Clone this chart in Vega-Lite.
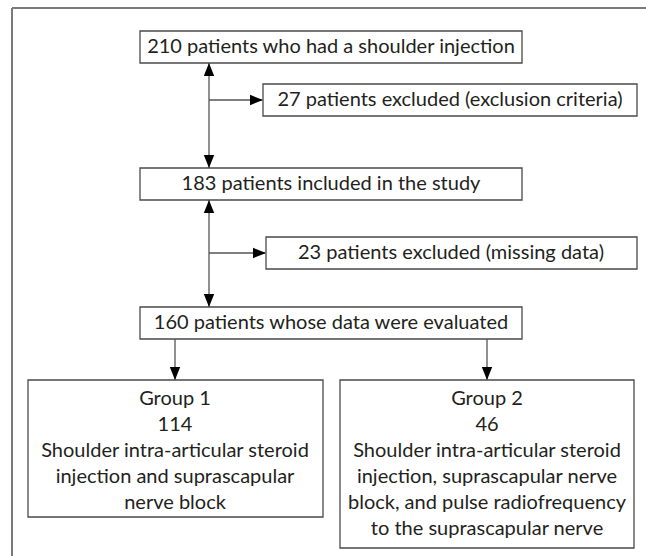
{
  "$schema": "https://vega.github.io/schema/vega-lite/v6.json",
  "width": 646,
  "height": 556,
  "padding": 0,
  "autosize": "none",
  "background": "white",
  "config": {"view": {"stroke": null}},
  "datasets": {
    "frame": [
      {"x1": 12, "y1": 8, "x2": 646, "y2": 8},
      {"x1": 12, "y1": 8, "x2": 12, "y2": 556}
    ],
    "boxes": [
      {"id": "b1", "x1": 140, "x2": 522, "y1": 31, "y2": 63},
      {"id": "b2", "x1": 263, "x2": 637, "y1": 84, "y2": 116},
      {"id": "b3", "x1": 140, "x2": 522, "y1": 168, "y2": 200},
      {"id": "b4", "x1": 266, "x2": 637, "y1": 237, "y2": 269},
      {"id": "b5", "x1": 140, "x2": 522, "y1": 307, "y2": 339},
      {"id": "b6", "x1": 28, "x2": 323, "y1": 380, "y2": 517},
      {"id": "b7", "x1": 340, "x2": 634, "y1": 380, "y2": 548}
    ],
    "links": [
      {"x1": 209, "y1": 63, "x2": 209, "y2": 168},
      {"x1": 209, "y1": 100, "x2": 262, "y2": 100},
      {"x1": 209, "y1": 200, "x2": 209, "y2": 307},
      {"x1": 209, "y1": 253, "x2": 265, "y2": 253},
      {"x1": 175, "y1": 339, "x2": 175, "y2": 380},
      {"x1": 487, "y1": 339, "x2": 487, "y2": 380}
    ],
    "heads": [
      {"x": 209, "y": 63, "dir": "up"},
      {"x": 209, "y": 168, "dir": "down"},
      {"x": 263, "y": 100, "dir": "right"},
      {"x": 209, "y": 200, "dir": "up"},
      {"x": 209, "y": 307, "dir": "down"},
      {"x": 266, "y": 253, "dir": "right"},
      {"x": 175, "y": 380, "dir": "down"},
      {"x": 487, "y": 380, "dir": "down"}
    ],
    "labels": [
      {"x": 331, "y": 47, "text": "210 patients who had a shoulder injection"},
      {"x": 450, "y": 100, "text": "27 patients excluded (exclusion criteria)"},
      {"x": 331, "y": 184, "text": "183 patients included in the study"},
      {"x": 451, "y": 253, "text": "23 patients excluded (missing data)"},
      {"x": 331, "y": 323, "text": "160 patients whose data were evaluated"},
      {"x": 175, "y": 399, "text": "Group 1"},
      {"x": 175, "y": 425, "text": "114"},
      {"x": 175, "y": 451, "text": "Shoulder intra-articular steroid"},
      {"x": 175, "y": 477, "text": "injection and suprascapular"},
      {"x": 175, "y": 503, "text": "nerve block"},
      {"x": 487, "y": 399, "text": "Group 2"},
      {"x": 487, "y": 425, "text": "46"},
      {"x": 487, "y": 451, "text": "Shoulder intra-articular steroid"},
      {"x": 487, "y": 477, "text": "injection, suprascapular nerve"},
      {"x": 487, "y": 503, "text": "block, and pulse radiofrequency"},
      {"x": 487, "y": 529, "text": "to the suprascapular nerve"}
    ]
  },
  "layer": [
    {
      "data": {"name": "frame"},
      "mark": {"type": "rule", "color": "#7a7a7a", "strokeWidth": 2},
      "encoding": {
        "x": {"field": "x1", "type": "quantitative", "scale": {"domain": [0, 646], "nice": false, "zero": false}, "axis": null},
        "y": {"field": "y1", "type": "quantitative", "scale": {"domain": [0, 556], "nice": false, "zero": false, "reverse": true}, "axis": null},
        "x2": {"field": "x2"},
        "y2": {"field": "y2"}
      }
    },
    {
      "data": {"name": "boxes"},
      "mark": {"type": "rect", "fill": "white", "stroke": "#4a4a4a", "strokeWidth": 1.3},
      "encoding": {
        "x": {"field": "x1", "type": "quantitative", "scale": {"domain": [0, 646], "nice": false, "zero": false}, "axis": null},
        "y": {"field": "y1", "type": "quantitative", "scale": {"domain": [0, 556], "nice": false, "zero": false, "reverse": true}, "axis": null},
        "x2": {"field": "x2"},
        "y2": {"field": "y2"}
      }
    },
    {
      "data": {"name": "links"},
      "mark": {"type": "rule", "color": "#555555", "strokeWidth": 1.3},
      "encoding": {
        "x": {"field": "x1", "type": "quantitative", "scale": {"domain": [0, 646], "nice": false, "zero": false}, "axis": null},
        "y": {"field": "y1", "type": "quantitative", "scale": {"domain": [0, 556], "nice": false, "zero": false, "reverse": true}, "axis": null},
        "x2": {"field": "x2"},
        "y2": {"field": "y2"}
      }
    },
    {
      "data": {"name": "heads"},
      "mark": {"type": "point", "filled": true, "color": "black", "opacity": 1, "size": 676, "strokeWidth": 0},
      "encoding": {
        "x": {"field": "x", "type": "quantitative", "scale": {"domain": [0, 646], "nice": false, "zero": false}, "axis": null},
        "y": {"field": "y", "type": "quantitative", "scale": {"domain": [0, 556], "nice": false, "zero": false, "reverse": true}, "axis": null},
        "shape": {
          "field": "dir", "type": "nominal", "legend": null,
          "scale": {"domain": ["up", "down", "right"], "range": ["M0,0L-0.4,1L0.4,1Z", "M0,0L-0.4,-1L0.4,-1Z", "M0,0L-1,-0.4L-1,0.4Z"]}
        }
      }
    },
    {
      "data": {"name": "labels"},
      "mark": {"type": "text", "font": "Lato", "fontSize": 20, "color": "#231f20", "align": "center", "baseline": "middle"},
      "encoding": {
        "x": {"field": "x", "type": "quantitative", "scale": {"domain": [0, 646], "nice": false, "zero": false}, "axis": null},
        "y": {"field": "y", "type": "quantitative", "scale": {"domain": [0, 556], "nice": false, "zero": false, "reverse": true}, "axis": null},
        "text": {"field": "text"}
      }
    }
  ]
}
